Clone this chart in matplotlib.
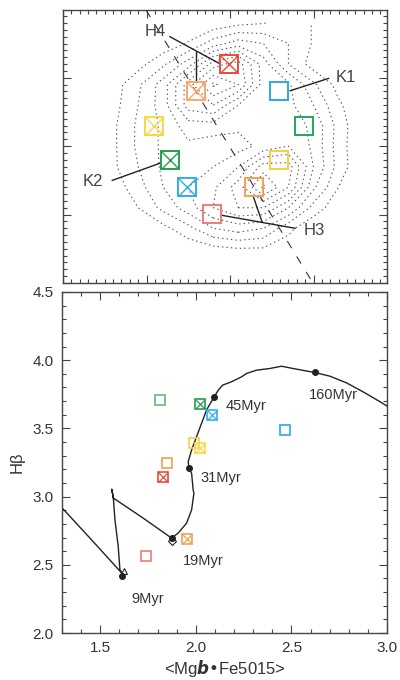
import numpy as np
import matplotlib
matplotlib.use("Agg")
import matplotlib.pyplot as plt
from matplotlib.ticker import MultipleLocator

plt.rcParams["font.family"] = ["Liberation Sans", "DejaVu Sans"]
plt.rcParams["lines.scale_dashes"] = False

INK = "#333333"

# ---- top panel: square positions (map units) ----
map_x = [1.99, 1.59, 2.59, 2.89, 1.09, 1.28, 2.59, 2.29, 1.49, 1.78]
map_y = [3.20, 2.80, 2.80, 2.29, 2.29, 1.80, 1.80, 1.40, 1.40, 1.01]
map_col = ["#e84a3c", "#f7a868", "#2aaae4", "#20a85a", "#f8d848",
           "#20a050", "#f8cf40", "#f5a050", "#30b0e8", "#ee7d74"]
map_cross = [True, True, False, False, True, True, False, False, True, False]

# density grid
grid_x = [0.3, 0.6, 0.9, 1.2, 1.5, 1.8, 2.1, 2.4, 2.7, 3.0, 3.3, 3.6]
grid_y = [0.2, 0.5, 0.8, 1.1, 1.4, 1.7, 2.0, 2.3, 2.6, 2.9, 3.2, 3.5, 3.8]
grid_z = [
    [0, 0, 0, 0, 0, 0, 0, 0, 0, 0, 0, 0],
    [0, 0, 0, 0, 0.3, 0.7, 0.95, 0.9, 0.4, 0, 0, 0],
    [0, 0, 0, 0.7, 1.7, 3.0, 3.5, 3.0, 1.3, 0.2, 0, 0],
    [0, 0, 1.0, 2.3, 3.5, 5.0, 6.0, 6.0, 4.0, 1.6, 0.3, 0],
    [0, 0.4, 1.6, 3.0, 4.0, 4.8, 6.5, 9.2, 7.0, 3.2, 1.0, 0],
    [0, 0.8, 2.0, 3.2, 3.8, 4.0, 5.0, 7.5, 7.5, 4.0, 1.6, 0],
    [0, 0.8, 2.2, 3.2, 3.8, 3.4, 3.6, 4.3, 5.0, 3.8, 1.5, 0],
    [0, 0.8, 2.2, 3.2, 4.5, 4.6, 4.2, 4.2, 4.5, 3.8, 1.6, 0],
    [0, 0.6, 2.0, 3.5, 6.5, 7.0, 5.0, 4.0, 4.3, 3.0, 1.2, 0],
    [0, 0.5, 1.8, 3.5, 6.5, 9.2, 8.0, 4.5, 4.2, 2.2, 0.6, 0],
    [0, 0, 0.6, 1.8, 3.5, 6.5, 7.5, 4.5, 2.0, 0.5, 0, 0],
    [0, 0, 0, 0.3, 1.1, 2.5, 3.5, 3.0, 2.0, 0.9, 0, 0],
    [0, 0, 0, 0, 0, 0.3, 0.7, 0.95, 1.5, 0.95, 0, 0],
]
levels = [1, 2, 3, 4, 5, 6, 7, 8, 9]

# slit line and labels
slit_x = [0.994, 2.993]
slit_y = [3.99, 0.0]
lab_names = ["H4", "K1", "K2", "H3"]
lab_x = [1.11, 3.39, 0.36, 3.01]
lab_y = [3.67, 3.00, 1.49, 0.77]
# pointer lines (x0, y0, x1, y1)
ptr = [
    (1.28, 3.60, 1.87, 3.21),
    (1.589, 3.377, 1.589, 2.94),
    (3.18, 2.99, 2.72, 2.81),
    (0.59, 1.50, 1.16, 1.75),
    (2.78, 0.80, 1.90, 0.99),
    (2.28, 1.26, 2.383, 0.895),
]

# ---- bottom panel: line indices ----
obs_x = [1.81, 2.021, 2.087, 2.469, 1.993, 2.023, 1.85, 1.828, 1.953, 1.741]
obs_y = [3.71, 3.68, 3.60, 3.49, 3.395, 3.354, 3.246, 3.146, 2.688, 2.561]
obs_col = ["#5cc07a", "#20a050", "#30b0e8", "#2aaae4", "#f8cf40",
           "#f8d848", "#f5a050", "#e84a3c", "#f5a050", "#ee7d74"]
obs_cross = [False, True, True, False, False, True, False, True, True, False]

track_x = [1.30, 1.45, 1.62, 1.603, 1.594, 1.577, 1.568, 1.56, 1.568, 1.725,
           1.873, 1.908, 1.952, 1.978, 1.99, 1.986, 1.978, 1.964, 1.96, 1.978,
           2.004, 2.03, 2.056, 2.096, 2.118, 2.14, 2.187, 2.239, 2.266, 2.318,
           2.387, 2.448, 2.509, 2.621, 2.701, 2.788, 2.875, 2.964, 3.0]
track_y = [2.918, 2.69, 2.428, 2.464, 2.635, 2.83, 3.0, 3.055, 2.99, 2.842,
           2.696, 2.733, 2.806, 2.903, 3.025, 3.05, 3.17, 3.208, 3.256, 3.342,
           3.44, 3.537, 3.635, 3.732, 3.781, 3.817, 3.842, 3.878, 3.903, 3.927,
           3.939, 3.956, 3.939, 3.91, 3.883, 3.834, 3.768, 3.695, 3.664]

age_x = [1.612, 1.873, 1.964, 2.096, 2.621]
age_y = [2.42, 2.696, 3.208, 3.732, 3.91]
age_txt = ["9Myr", "19Myr", "31Myr", "45Myr", "160Myr"]
age_tx = [1.75, 2.04, 2.13, 2.265, 2.72]
age_ty = [2.25, 2.525, 3.135, 3.664, 3.745]

fig = plt.figure(figsize=(4.0, 6.8), dpi=100)

# ---------------- top panel ----------------
ax1 = fig.add_axes([0.1575, 0.5838, 0.81, 0.4015])
ax1.contour(grid_x, grid_y, np.array(grid_z), levels=levels, colors="#555555",
            linewidths=0.8, linestyles=[(0, (1.0, 2.2))])
ax1.plot(slit_x, slit_y, color="#333333", lw=0.8, ls=(0, (6, 7)))
for x0, y0, x1, y1 in ptr:
    ax1.plot([x0, x1], [y0, y1], color="#222222", lw=1.0)
for x, y, c, cr in zip(map_x, map_y, map_col, map_cross):
    ax1.plot(x, y, marker="s", ms=13.5, mfc="none", mec=c, mew=1.4)
    if cr:
        ax1.plot(x, y, marker="x", ms=13.5, mec=c, mew=1.0)
for t, x, y in zip(lab_names, lab_x, lab_y):
    ax1.text(x, y, t, fontsize=12, color="#444444", ha="center", va="center")
ax1.set_xlim(0, 3.88)
ax1.set_ylim(0, 3.99)
ax1.xaxis.set_major_locator(MultipleLocator(1))
ax1.xaxis.set_minor_locator(MultipleLocator(0.1))
ax1.yaxis.set_major_locator(MultipleLocator(1))
ax1.yaxis.set_minor_locator(MultipleLocator(0.1))
ax1.tick_params(which="both", direction="in", top=True, right=True,
                labelbottom=False, labelleft=False, color="#444444")
ax1.tick_params(which="major", length=6, width=0.8)
ax1.tick_params(which="minor", length=3, width=0.8)

# ---------------- bottom panel ----------------
ax2 = fig.add_axes([0.155, 0.0691, 0.8125, 0.5015])
ax2.plot(track_x, track_y, color="#222222", lw=1.0)
ax2.plot(age_x, age_y, "o", color="#222222", ms=4)
ax2.plot([1.873], [2.676], marker="D", ms=4, mfc="none", mec="#222222", mew=0.8)
ax2.plot([1.625], [2.452], marker="^", ms=4, mfc="none", mec="#222222", mew=0.8)
for t, x, y in zip(age_txt, age_tx, age_ty):
    ax2.text(x, y, t, fontsize=10.5, color=INK, ha="center", va="center")
for x, y, c, cr in zip(obs_x, obs_y, obs_col, obs_cross):
    ax2.plot(x, y, marker="s", ms=7.5, mfc="none", mec=c, mew=1.2)
    if cr:
        ax2.plot(x, y, marker="x", ms=7.5, mec=c, mew=0.9)
ax2.set_xlim(1.3, 3.0)
ax2.set_ylim(2.0, 4.5)
ax2.xaxis.set_major_locator(MultipleLocator(0.5))
ax2.xaxis.set_minor_locator(MultipleLocator(0.1))
ax2.yaxis.set_major_locator(MultipleLocator(0.5))
ax2.yaxis.set_minor_locator(MultipleLocator(0.1))
ax2.tick_params(which="both", direction="in", top=True, right=True,
                color="#444444", labelcolor=INK, labelsize=11, pad=6)
ax2.tick_params(which="major", length=6, width=0.8)
ax2.tick_params(which="minor", length=3, width=0.8)
ax2.set_ylabel("Hβ", fontsize=12, color=INK, labelpad=6)
ax2.set_xlabel(r"<Mg$\boldsymbol{b}$•Fe5015>", fontsize=12, color=INK, labelpad=2)

for ax in (ax1, ax2):
    for s in ax.spines.values():
        s.set_color("#444444")
        s.set_linewidth(1.0)

plt.savefig("out.png", dpi=100, facecolor="white")
